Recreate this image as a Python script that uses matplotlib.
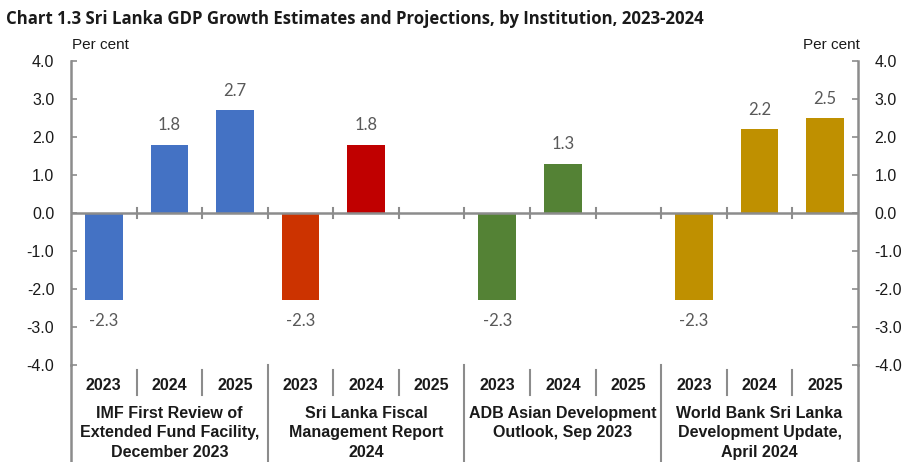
import numpy as np
import matplotlib
matplotlib.use('Agg')
import matplotlib.pyplot as plt

# chart data
institutions = ['IMF First Review of\nExtended Fund Facility,\nDecember 2023',
                'Sri Lanka Fiscal\nManagement Report\n2024',
                'ADB Asian Development\nOutlook, Sep 2023',
                'World Bank Sri Lanka\nDevelopment Update,\nApril 2024']
years = ['2023', '2024', '2025']
imfVals = [-2.3, 1.8, 2.7]
slVals = [-2.3, 1.8, np.nan]
adbVals = [-2.3, 1.3, np.nan]
wbVals = [-2.3, 2.2, 2.5]
yTicks = [-4.0, -3.0, -2.0, -1.0, 0.0, 1.0, 2.0, 3.0, 4.0]

# colours per bar (one colour per institution, SL 2023 differs)
barColors = ['#4472C4', '#4472C4', '#4472C4',
             '#CC3300', '#C00000', '#C00000',
             '#548235', '#548235', '#548235',
             '#BF9000', '#BF9000', '#BF9000']

axisGray = '#8C8C8C'
labelGray = '#595959'
tickFont = ['Liberation Sans', 'DejaVu Sans']

values = np.array(imfVals + slVals + adbVals + wbVals)
xPos = np.arange(len(values))
nYears = len(years)

fig = plt.figure(figsize=(9.03, 4.62), dpi=100)
ax = fig.add_axes([71 / 903, 1 - 365 / 462, (858 - 71) / 903, (365 - 61) / 462])

ax.bar(xPos, np.nan_to_num(values), width=0.575, color=barColors, zorder=2)

# data labels
for x, v in zip(xPos, values):
    if np.isnan(v):
        continue
    off = 14 if v > 0 else -15
    ax.annotate(f'{v:.1f}', (x, v), xytext=(0, off), textcoords='offset points',
                ha='center', va='center', fontsize=12, color=labelGray,
                family=['Lato', 'DejaVu Sans'])

ax.set_xlim(-0.5, len(values) - 0.5)
ax.set_ylim(-4, 4)
ax.set_yticks(yTicks)
ax.set_yticklabels([f'{t:.1f}' for t in yTicks], family=tickFont, fontsize=11.5,
                   color='#1a1a1a')
ax.tick_params(axis='y', direction='in', length=4, width=1.2, color=axisGray,
               labelleft=True, labelright=True, left=True, right=True, pad=12)
ax.set_xticks([])

for side in ['top', 'bottom']:
    ax.spines[side].set_visible(False)
for side in ['left', 'right']:
    ax.spines[side].set_color(axisGray)
    ax.spines[side].set_linewidth(1.8)

# zero line with category ticks
ax.axhline(0, color=axisGray, lw=1.8, zorder=3)
for b in np.arange(0.5, len(values) - 0.5, 1):
    ax.plot([b, b], [-0.12, 0.12], color=axisGray, lw=1.5, zorder=3)

# category table below the plot
trans = ax.get_xaxis_transform()
for b in np.arange(0.5, len(values) - 0.5, 1):
    groupEdge = (b + 0.5) % nYears == 0
    yEnd = -0.33 if groupEdge else -0.10
    yStart = 0 if groupEdge else -0.015
    ax.plot([b, b], [yStart, yEnd], color=axisGray, lw=1.5, transform=trans,
            clip_on=False)
ax.plot([-0.5, -0.5], [0, -0.33], color=axisGray, lw=1.8, transform=trans, clip_on=False)
ax.plot([len(values) - 0.5] * 2, [0, -0.33], color=axisGray, lw=1.8, transform=trans,
        clip_on=False)

for i, x in enumerate(xPos):
    ax.text(x, -0.068, years[i % nYears], transform=trans, ha='center', va='center',
            fontsize=11.5, fontweight='bold', family=tickFont, color='#1a1a1a')

for g, name in enumerate(institutions):
    cx = g * nYears + (nYears - 1) / 2
    ax.text(cx, -0.135, name, transform=trans, ha='center', va='top',
            fontsize=11.5, fontweight='bold', family=tickFont, color='#1a1a1a',
            linespacing=1.36)

# title and unit labels
fig.text(6 / 903, 1 - 19 / 462, 'Chart 1.3 Sri Lanka GDP Growth Estimates and Projections, by Institution, 2023-2024',
         ha='left', va='center', fontsize=12.1, fontweight='bold',
         family=['Open Sans', 'DejaVu Sans'], color='#1a1a1a')
fig.text(72 / 903, 1 - 45 / 462, 'Per cent', ha='left', va='center', fontsize=11,
         family=tickFont, color='#1a1a1a')
fig.text(860 / 903, 1 - 45 / 462, 'Per cent', ha='right', va='center', fontsize=11,
         family=tickFont, color='#1a1a1a')

fig.savefig('out.png', dpi=100)
